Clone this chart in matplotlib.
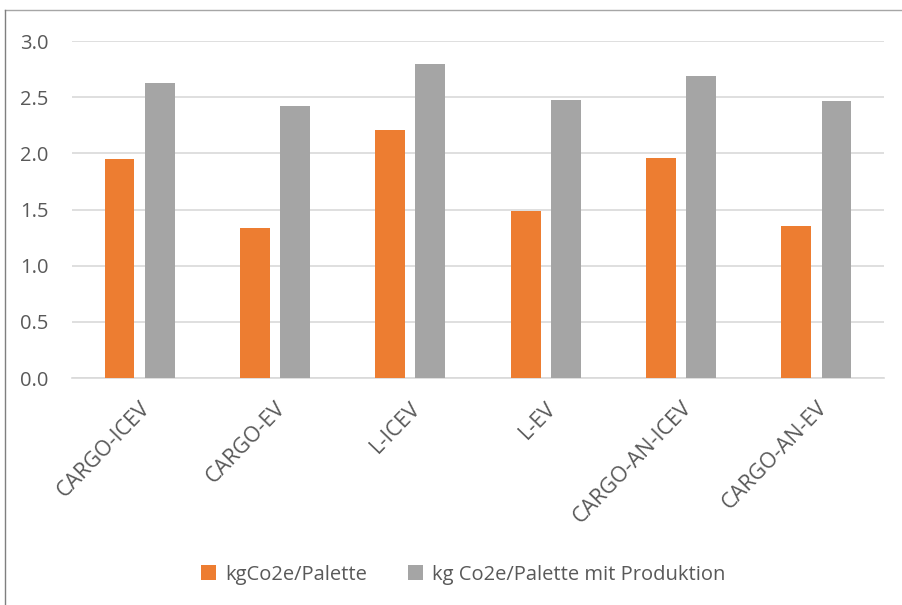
import numpy as np
import matplotlib.pyplot as plt
import matplotlib.transforms as mtransforms
from matplotlib.lines import Line2D

# Emissions per pallet, with and without vehicle production
categories = ['CARGO-ICEV', 'CARGO-EV', 'L-ICEV', 'L-EV', 'CARGO-AN-ICEV', 'CARGO-AN-EV']
kg_palette = [1.95, 1.34, 2.21, 1.49, 1.96, 1.35]
kg_palette_prod = [2.63, 2.42, 2.80, 2.48, 2.69, 2.47]
series_names = ['kgCo2e/Palette', 'kg Co2e/Palette mit Produktion']
y_ticks = [0.0, 0.5, 1.0, 1.5, 2.0, 2.5, 3.0]

plt.rcParams['font.family'] = ['Open Sans', 'DejaVu Sans']
text_color = '#595959'

fig = plt.figure(figsize=(9.03, 6.05), dpi=100)
ax = fig.add_axes([0.0797, 0.375, 0.8993, 0.557])

x = np.arange(len(categories))
w = 0.22
ax.bar(x - 0.148, kg_palette, w, color='#ED7D31', label=series_names[0], zorder=3)
ax.bar(x + 0.148, kg_palette_prod, w, color='#A5A5A5', label=series_names[1], zorder=3)

ax.set_xlim(-0.5, len(categories) - 0.5)
ax.set_ylim(0, 3.0)
ax.set_yticks(y_ticks)
ax.set_yticklabels([f'{v:.1f}' for v in y_ticks], fontsize=14.5, color=text_color)
ax.set_xticks(x)
ax.set_xticklabels(categories, rotation=46, ha='right', rotation_mode='anchor',
                   fontsize=15.5, color=text_color)
# nudge the slanted labels a little to the right
shift = mtransforms.ScaledTranslation(6 / 100, 0, fig.dpi_scale_trans)
for lbl in ax.get_xticklabels():
    lbl.set_transform(lbl.get_transform() + shift)
ax.tick_params(axis='both', length=0)
ax.tick_params(axis='y', pad=17)
ax.tick_params(axis='x', pad=14)
ax.yaxis.grid(True, color='#D9D9D9', linewidth=1.2, zorder=0)
for s in ['top', 'right', 'left']:
    ax.spines[s].set_visible(False)
ax.spines['bottom'].set_color('#D9D9D9')
ax.spines['bottom'].set_linewidth(1.2)

fig.legend(loc='center', bbox_to_anchor=(0.513, 0.05), ncol=2, frameon=False,
           fontsize=14.5, labelcolor=text_color, handlelength=0.75, handleheight=0.75,
           handletextpad=0.45, columnspacing=2.0)

# frame edge visible at the top and left of the original picture
fig.add_artist(Line2D([5 / 903, 1], [1 - 10 / 605, 1 - 10 / 605], color='#A6A6A6', lw=1))
fig.add_artist(Line2D([5 / 903, 5 / 903], [0, 1 - 10 / 605], color='#7F7F7F', lw=1))

fig.savefig('out.png', dpi=100)
